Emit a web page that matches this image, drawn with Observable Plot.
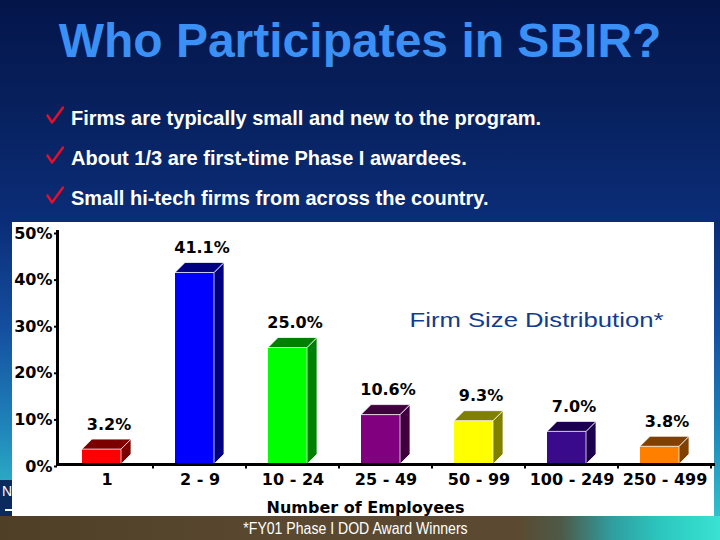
<!DOCTYPE html>
<html><head><meta charset="utf-8">
<script src="https://cdn.jsdelivr.net/npm/d3@7"></script>
<script src="https://cdn.jsdelivr.net/npm/@observablehq/plot@0.6"></script>
<style>
html,body{margin:0;padding:0;width:720px;height:540px;overflow:hidden;}
body{position:relative;font-family:"Liberation Sans",Arial,sans-serif;
 background:linear-gradient(to bottom,#04154a 0px,#07205c 100px,#0b2d78 222px,#1450a0 330px,#1e80b8 420px,#2aa8c4 480px,#30c0cc 516px);}
.abs{position:absolute;line-height:1;white-space:nowrap;}
#title{left:0;width:720px;top:17px;text-align:center;color:#3a90f4;font-weight:bold;font-size:48px;}
.bullet{left:71px;color:#fff;font-weight:bold;font-size:20px;}
.check{position:absolute;left:46px;width:18px;height:18px;}
#chart{position:absolute;left:12px;top:222px;width:702px;height:294px;background:#fff;}
#bottom{position:absolute;left:0;top:516px;width:720px;height:24px;
 background:linear-gradient(to right,#4f3f27 0%,#5a4930 40%,#5b4a31 72%,#4d5a48 78%,#2f9ea0 85%,#2cc8c0 92%,#3ae2d2 100%);}
#caption{left:0;width:720px;top:521px;text-align:center;color:#fff;font-size:16px;}
#caption span{display:inline-block;transform:scaleX(0.88);transform-origin:center;margin-left:-10px;}
#footbox{position:absolute;left:0;top:480px;width:12px;height:36px;background:#0b2a5e;overflow:hidden;}
#footbox span{position:absolute;left:2px;top:4px;color:#fff;font-size:14px;line-height:1;}
#footbox i{position:absolute;left:5px;top:29px;width:7px;height:2px;background:#fff;}
</style>
</head><body>
<div id="title" class="abs">Who Participates in SBIR?</div>
<svg class="check" style="top:106px" viewBox="0 0 18 18"><path d="M1.5 9.5 L6 16.5 L17 1.5" fill="none" stroke="#e3102c" stroke-width="2.4" stroke-linejoin="round" stroke-linecap="round"/></svg>
<div class="abs bullet" style="top:108px">Firms are typically small and new to the program.</div>
<svg class="check" style="top:146px" viewBox="0 0 18 18"><path d="M1.5 9.5 L6 16.5 L17 1.5" fill="none" stroke="#e3102c" stroke-width="2.4" stroke-linejoin="round" stroke-linecap="round"/></svg>
<div class="abs bullet" style="top:148px">About 1/3 are first-time Phase I awardees.</div>
<svg class="check" style="top:186px" viewBox="0 0 18 18"><path d="M1.5 9.5 L6 16.5 L17 1.5" fill="none" stroke="#e3102c" stroke-width="2.4" stroke-linejoin="round" stroke-linecap="round"/></svg>
<div class="abs bullet" style="top:188px">Small hi-tech firms from across the country.</div>
<div id="footbox"><span>N</span><i></i></div>
<div id="chart"></div>
<div id="bottom"></div>
<div id="caption" class="abs"><span>*FY01 Phase I DOD Award Winners</span></div>
<script>
const categories = ["1", "2 - 9", "10 - 24", "25 - 49", "50 - 99", "100 - 249", "250 - 499"];
const shares = [3.2, 41.1, 25.0, 10.6, 9.3, 7.0, 3.8];
const frontColors = ["#ff0000", "#0000ff", "#00ff00", "#800080", "#ffff00", "#3a0a8c", "#ff8000"];
const shadeColors = ["#7c0000", "#000080", "#008000", "#400040", "#808000", "#1c0050", "#804000"];
const yTicks = [0, 10, 20, 30, 40, 50];
const chartTitle = "Firm Size Distribution*";
const xLabel = "Number of Employees";

const data = categories.map((c, i) => ({category: c, share: shares[i], front: frontColors[i], shade: shadeColors[i]}));

const DEPTH = 10, INSET_L = 22, INSET_R = 32;

function render3D(index, scales, values, dimensions, context, next) {
  const g = next(index, scales, values, dimensions, context);
  const ns = "http://www.w3.org/2000/svg";
  const rects = Array.from(g.querySelectorAll("rect"));
  const y0 = scales.y(0);
  const bw = scales.x.bandwidth ? scales.x.bandwidth() : null;
  rects.forEach((r, j) => {
    const d = data[index[j]];
    const x = +r.getAttribute("x"), y = +r.getAttribute("y");
    const w = +r.getAttribute("width"), h = +r.getAttribute("height");
    const side = document.createElementNS(ns, "polygon");
    side.setAttribute("points", `${x + w},${y + h} ${x + w + DEPTH},${y + h - DEPTH} ${x + w + DEPTH},${y - DEPTH} ${x + w},${y}`);
    side.setAttribute("fill", d.shade);
    side.setAttribute("stroke", "rgba(255,255,255,0.75)");
    side.setAttribute("stroke-width", "1");
    const top = document.createElementNS(ns, "polygon");
    top.setAttribute("points", `${x},${y} ${x + DEPTH},${y - DEPTH} ${x + w + DEPTH},${y - DEPTH} ${x + w},${y}`);
    top.setAttribute("fill", d.shade);
    top.setAttribute("stroke", "rgba(255,255,255,0.75)");
    top.setAttribute("stroke-width", "1");
    g.appendChild(side);
    g.appendChild(top);
    const bandRight = x - INSET_L + (bw != null ? bw : w + INSET_L + INSET_R);
    const tick = document.createElementNS(ns, "line");
    tick.setAttribute("x1", bandRight); tick.setAttribute("x2", bandRight);
    tick.setAttribute("y1", y0 + 1); tick.setAttribute("y2", y0 + 4.5);
    tick.setAttribute("stroke", "#000"); tick.setAttribute("stroke-width", "2");
    g.appendChild(tick);
  });
  return g;
}

const chart = Plot.plot({
  width: 702,
  height: 294,
  marginLeft: 45,
  marginRight: 1,
  marginTop: 9,
  marginBottom: 52,
  style: {fontFamily: "DejaVu Sans", fontSize: "16px", fontWeight: "bold", color: "#000", background: "#fff", overflow: "visible"},
  x: {domain: categories, padding: 0, label: null},
  y: {domain: [0, 50], label: null},
  marks: [
    Plot.barY(data, {x: "category", y: "share", fill: "front", insetLeft: INSET_L, insetRight: INSET_R, render: render3D}),
    Plot.frame({anchor: "left", stroke: "#000", strokeWidth: 3}),
    Plot.frame({anchor: "bottom", stroke: "#000", strokeWidth: 3}),
    Plot.axisY({ticks: yTicks, tickFormat: d => d + "%", tickSize: 3, tickPadding: 2, strokeWidth: 2, dy: 2, label: null, fontSize: 16, fontWeight: "bold", fill: "#000"}),
    Plot.axisX({tickSize: 0, tickPadding: 9, label: null, fontSize: 16, fontWeight: "bold", fill: "#000"}),
    Plot.text(data, {x: "category", y: "share", text: d => d.share.toFixed(1) + "%", dx: 2, dy: -20, lineAnchor: "bottom", fontSize: 16, fontWeight: "bold", fill: "#000"}),
    Plot.text([xLabel], {frameAnchor: "bottom", dx: -20, dy: 48, lineAnchor: "bottom", fontSize: 16, fontWeight: "bold", fill: "#000"}),
    Plot.text([chartTitle], {frameAnchor: "top", dx: 151, dy: 95, lineAnchor: "bottom", fontSize: 20, fontWeight: "normal", fontFamily: "Liberation Sans", fill: "#123c8e"})
  ]
});
document.getElementById("chart").appendChild(chart);
// the original chart lettering is horizontally stretched; stretch the title to its width
chart.querySelectorAll("text").forEach(t => {
  if (t.textContent === chartTitle) {
    t.setAttribute("textLength", "254");
    t.setAttribute("lengthAdjust", "spacingAndGlyphs");
  }
});
</script>
</body></html>
